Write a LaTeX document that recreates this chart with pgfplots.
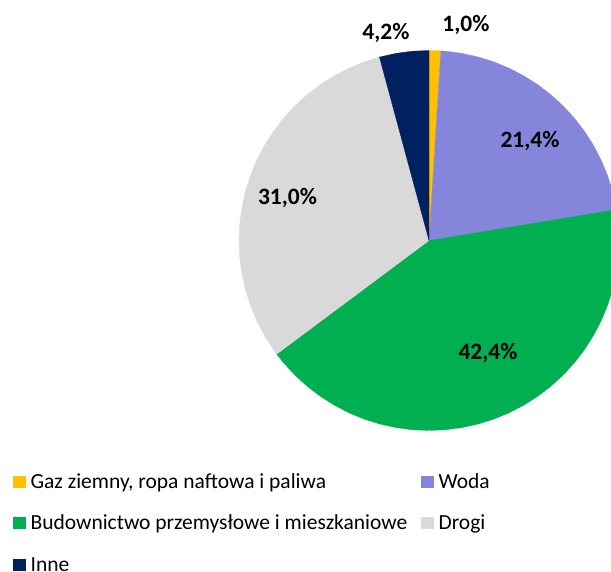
\documentclass[border=0pt]{standalone}
\usepackage{pgfplots}
\pgfplotsset{compat=1.18}
\usepgfplotslibrary{polar}
\usepackage{fontspec}
\setmainfont{Carlito}
\definecolor{cgaz}{HTML}{FFC000}
\definecolor{cwoda}{HTML}{8585DC}
\definecolor{cbud}{HTML}{00B050}
\definecolor{cdrogi}{HTML}{D9D9D9}
\definecolor{cinne}{HTML}{002060}
\newcommand{\ls}{\rule[-5pt]{0pt}{20pt}}
\begin{document}
\begin{tikzpicture}
\begin{axis}[
  name=ax,
  scale only axis, width=611pt, height=572pt,
  xmin=-429, xmax=182, ymin=-331.5, ymax=240.5,
  hide axis, clip=true,
  data cs=polar,
  legend columns=2,
  legend cell align=left,
  legend style={draw=none, fill=none, inner sep=0pt, outer sep=0pt,
    at={(axis cs:-415.7,-232.8)}, anchor=north west,
    font=\fontsize{21.5}{25}\selectfont,
    row sep=25pt,
    nodes={inner sep=0pt},
    /tikz/every odd column/.append style={column sep=5.5pt},
    /tikz/every even column/.append style={column sep=14pt}},
  legend image code/.code={\fill[#1] (0pt,-5.5pt) rectangle (11.5pt,5.5pt);},
]
% values (%): Gaz 1.0, Woda 21.4, Budownictwo 42.4, Drogi 31.0, Inne 4.2 (angles clockwise from 90 deg)
\addplot[fill=cgaz, draw=cgaz, line width=0.3pt] coordinates {(0,0) (90,190) (88.2,190) (86.4,190)} -- cycle;
\addlegendentry{\ls Gaz ziemny, ropa naftowa i paliwa}
\addplot[fill=cwoda, draw=cwoda, line width=0.3pt] coordinates {(0,0) (86.4,190) (85,190) (80,190) (75,190) (70,190) (65,190) (60,190) (55,190) (50,190) (45,190) (40,190) (35,190) (30,190) (25,190) (20,190) (15,190) (10,190) (9.36,190)} -- cycle;
\addlegendentry{\ls Woda}
\addplot[fill=cbud, draw=cbud, line width=0.3pt] coordinates {(0,0) (9.36,190) (5,190) (0,190) (-5,190) (-10,190) (-15,190) (-20,190) (-25,190) (-30,190) (-35,190) (-40,190) (-45,190) (-50,190) (-55,190) (-60,190) (-65,190) (-70,190) (-75,190) (-80,190) (-85,190) (-90,190) (-95,190) (-100,190) (-105,190) (-110,190) (-115,190) (-120,190) (-125,190) (-130,190) (-135,190) (-140,190) (-143.28,190)} -- cycle;
\addlegendentry{\ls Budownictwo przemysłowe i mieszkaniowe}
\addplot[fill=cdrogi, draw=cdrogi, line width=0.3pt] coordinates {(0,0) (-143.28,190) (-145,190) (-150,190) (-155,190) (-160,190) (-165,190) (-170,190) (-175,190) (-180,190) (-185,190) (-190,190) (-195,190) (-200,190) (-205,190) (-210,190) (-215,190) (-220,190) (-225,190) (-230,190) (-235,190) (-240,190) (-245,190) (-250,190) (-254.88,190)} -- cycle;
\addlegendentry{\ls Drogi}
\addplot[fill=cinne, draw=cinne, line width=0.3pt] coordinates {(0,0) (-254.88,190) (-260,190) (-265,190) (-270,190)} -- cycle;
\addlegendentry{\ls Inne}
\begin{scope}[every node/.style={font=\fontsize{23.5}{28}\selectfont\bfseries, anchor=base, inner sep=0pt}]
\node at (axis cs:37,208.5) {1,0\%};
\node at (axis cs:-43,200.5) {4,2\%};
\node at (axis cs:101,93.2) {21,4\%};
\node at (axis cs:59,-119.5) {42,4\%};
\node at (axis cs:-141.5,35.5) {31,0\%};
\end{scope}
\coordinate (bl) at (rel axis cs:0,0);
\coordinate (tr) at (rel axis cs:1,1);
\end{axis}
\pgfresetboundingbox
\path[use as bounding box] (bl) rectangle (tr);
\end{tikzpicture}
\end{document}
